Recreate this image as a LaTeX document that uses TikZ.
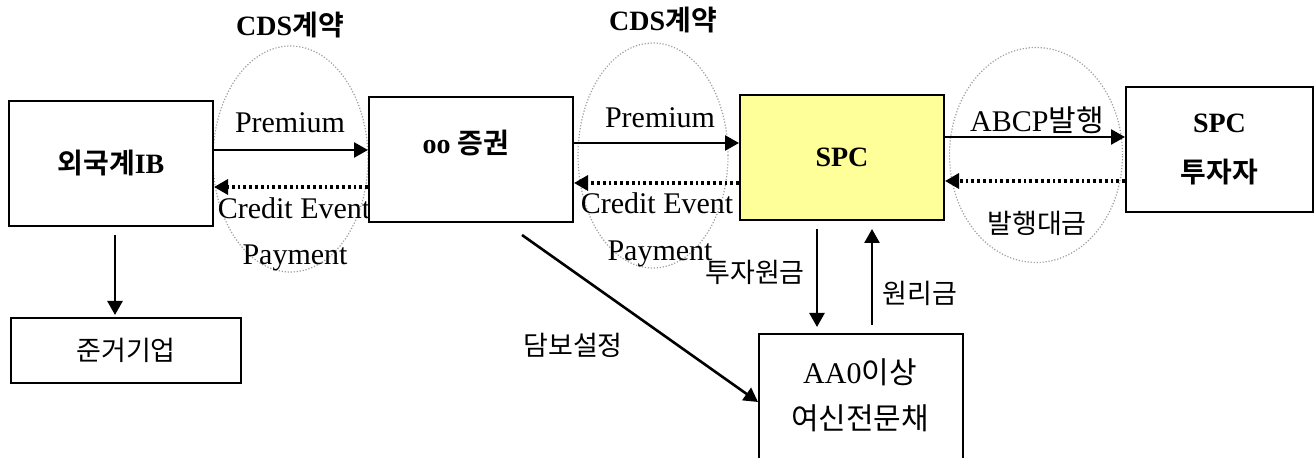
\documentclass[tikz,border=0pt]{standalone}
\usepackage{fontspec}
\setmainfont{Liberation Serif}
\newfontfamily\kr{Noto Sans CJK KR}[BoldFont=Noto Sans CJK KR Bold]
\usetikzlibrary{arrows.meta,shapes.geometric}
\definecolor{spcyellow}{HTML}{FFFF99}
\tikzset{
  box/.style={draw, line width=1pt, minimum width=102pt, minimum height=62.5pt, inner sep=0pt},
  flow/.style={line width=1.3pt, -{Triangle[length=7pt,width=7.5pt]}},
  back/.style={flow, line width=1.6pt, dash pattern=on 1.4pt off 1.5pt},
  oval/.style={ellipse, draw=gray!75, line width=0.6pt, dash pattern=on 0.6pt off 0.9pt, inner sep=0pt},
  lbl/.style={font=\fontsize{15}{17}\selectfont, inner sep=0pt},
  klbl/.style={font=\kr\fontsize{13.5}{15}\selectfont, inner sep=0pt},
  head/.style={font=\bfseries\fontsize{14}{16}\selectfont, inner sep=0pt}
}
\begin{document}
\begin{tikzpicture}[x=0.5pt,y=-0.5pt]

\clip (0,0) rectangle (1316,458);
\fill[white] (0,0) rectangle (1316,458);

\node[oval, minimum width=77.5pt, minimum height=113pt] (e1) at (290.5,159) {};
\node[oval, minimum width=75pt, minimum height=112.5pt] (e2) at (653,155.5) {};
\node[oval, minimum width=86.5pt, minimum height=107.5pt] (e3) at (1036,155) {};

\node[box, font=\bfseries\fontsize{14}{16}\selectfont] (ib) at (111,163.5) {{\kr 외국계}IB};
\node[box, minimum width=115pt, minimum height=32.5pt, font=\kr\fontsize{13.5}{15}\selectfont] (ref) at (126,350.5) {준거기업};
\node[box] (oo) at (471,159.5) {};
\node[head] (ootxt) at (466,143) {oo {\kr 증권}};
\node[box, fill=spcyellow, font=\bfseries\fontsize{14}{16}\selectfont] (spc) at (842,157.5) {SPC};
\node[box, minimum width=93.5pt, align=center, font=\bfseries\fontsize{14}{25}\selectfont] (inv) at (1219.5,149.5) {SPC\\{\kr 투자자}};
\node[box, minimum height=66pt] (aa) at (861,400) {};
\node[lbl, align=center, font=\fontsize{15}{23}\selectfont] (aatxt) at (860,395) {AA0{\kr 이상}\\{\kr 여신전문채}};

\node[head] (cds1) at (290,25) {CDS{\kr 계약}};
\node[head] (cds2) at (663,20) {CDS{\kr 계약}};
\node[lbl] (pr1) at (290,123) {Premium};
\node[lbl] (ce1) at (294,208) {Credit Event};
\node[lbl] (pay1) at (295,258) {Payment};
\node[lbl] (pr2) at (660,118) {Premium};
\node[lbl] (ce2) at (657,203) {Credit Event};
\node[lbl] (pay2) at (660,254) {Payment};
\node[lbl] (abcp) at (1037,120) {ABCP{\kr 발행}};
\node[klbl] (fee) at (1037,223) {발행대금};
\node[klbl] (invamt) at (755,272) {투자원금};
\node[klbl] (prin) at (920,293) {원리금};
\node[klbl] (col) at (573,345) {담보설정};

\coordinate (p1) at ([yshift=6.75pt]ib.east);
\coordinate (q1) at ([yshift=-11.75pt]ib.east);
\coordinate (p2) at ([yshift=8.25pt]oo.east);
\coordinate (q2) at ([yshift=-11.75pt]oo.east);
\coordinate (p3) at ([yshift=10.25pt]spc.east);
\coordinate (q3) at ([yshift=-11.75pt]spc.east);
\coordinate (d0) at ([xshift=2pt]ib.south);
\coordinate (d1) at ([xshift=-12.5pt]spc.south);
\coordinate (u1) at ([xshift=5.5pt]aa.north);

\draw[flow] (p1) -- (p1 -| oo.west);
\draw[back] (q1 -| oo.west) -- (q1);
\draw[flow] (p2) -- (p2 -| spc.west);
\draw[back] (q2 -| spc.west) -- (q2);
\draw[flow] (p3) -- (p3 -| inv.west);
\draw[back] (q3 -| inv.west) -- (q3);

\draw[flow, shorten <=4pt, shorten >=1pt] (d0) -- (d0 |- ref.north);
\draw[flow, shorten <=4pt, shorten >=3pt] (d1) -- (d1 |- aa.north);
\draw[flow, shorten <=4pt, shorten >=4pt] (u1) -- (u1 |- spc.south);
\draw[flow] ([shift={(25.5pt,-6pt)}]oo.south) -- ([yshift=-1pt]aa.west);

\end{tikzpicture}
\end{document}
